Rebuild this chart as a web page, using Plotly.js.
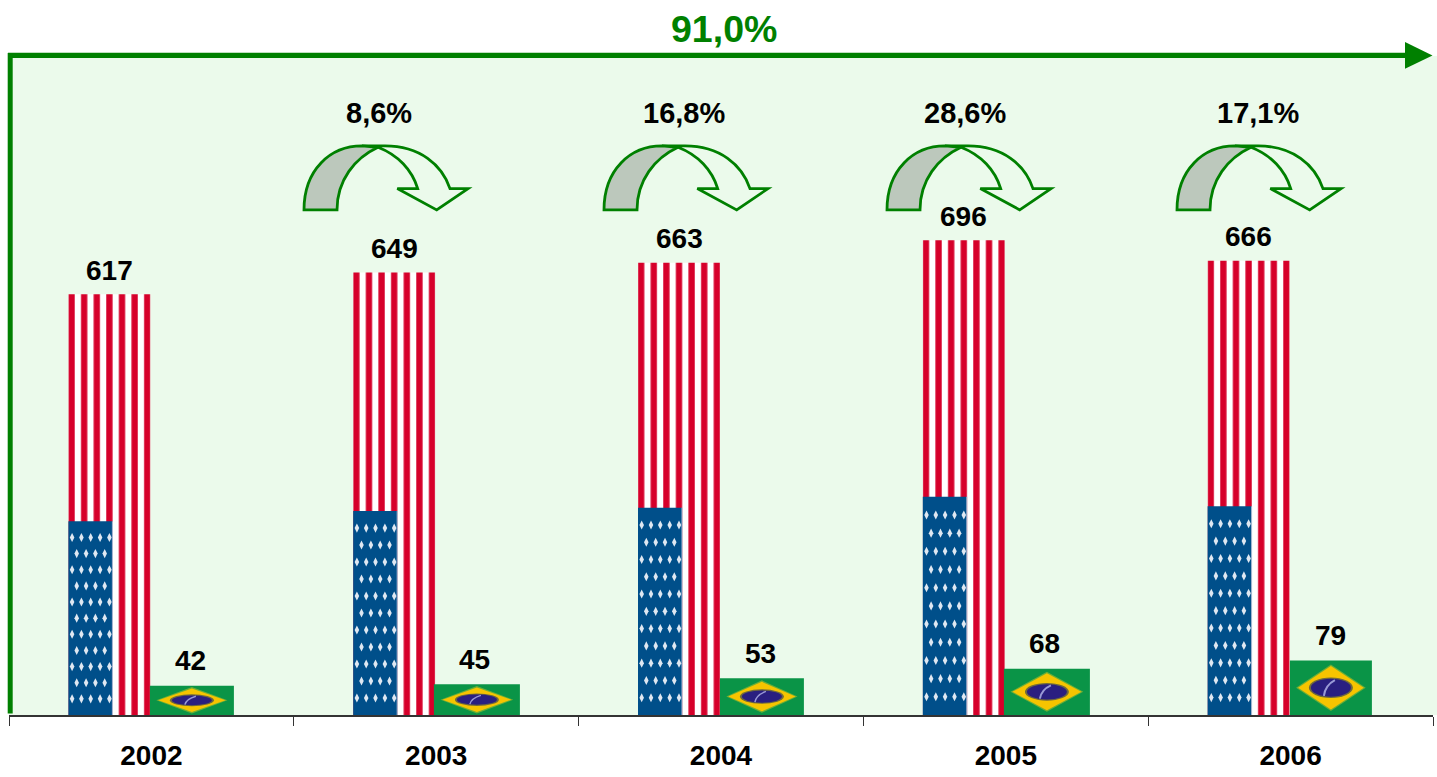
<!DOCTYPE html>
<html><head><meta charset="utf-8">
<script src="https://cdn.plot.ly/plotly-3.0.0.min.js"></script>
<style>html,body{margin:0;padding:0;background:#fff}#g{width:1437px;height:777px}</style>
</head><body><div id="g"></div>
<script>
const years = ['2002','2003','2004','2005','2006'];
const usValues = [617,649,663,696,666];
const usCanton = [284,299,304,320,306];
const brValues = [43,45,54,68,80];
const usLabels = ['617','649','663','696','666'];
const brLabels = ['42','45','53','68','79'];
const growthLabels = ['8,6%','16,8%','28,6%','17,1%'];
const totalLabel = '91,0%';

// layout constants (pixels)
const W=1437,H=777,mL=9,mR=4,mT=56,mB=61.5;
const pw=W-mL-mR, ph=H-mT-mB, cat=pw/5, yMax=ph/0.6825;
const pxX=p=>(p-mL)/pw, pxY=p=>1-(p-mT)/ph;
const GREEN='#008000', FONT='Liberation Sans, Arial, sans-serif';
const usOffset=-83/cat, usWidth=82/cat, cantonWidth=44/cat;
const brOffsets=[-1.5,-2.3,-1.1,-1.9,-0.7].map(v=>v/cat), brWidths=[84,86,84,86,82].map(v=>v/cat);
const brNudge=[-1.5,-2,-1.5,-2,-0.5];
const arrowLefts=[304,604,887,1177], growthCenters=[379,684,965,1258];
const tile=2*82/13;

// stars on the canton
const starX=[],starY=[];
years.forEach((y,i)=>{
  for(let r=1;r<=11;r++){
    const cols=(r%2)?[3.7,13,22.3,31.7,41]:[8.3,17.7,27,36.3];
    cols.forEach(c=>{starX.push(i+usOffset+c/cat);starY.push(usCanton[i]*r/12);});
  }
});

const traces=[
 {type:'bar',name:'EUA',x:years,y:usValues,offset:usOffset,width:usWidth,hoverinfo:'x+y',
  marker:{color:'#ffffff',line:{width:0},pattern:{shape:'|',fgcolor:'#d6002a',bgcolor:'#ffffff',size:years.map(()=>tile),solidity:0.5,fgopacity:1}}},
 {type:'bar',name:'Cantão',x:years,y:usCanton,offset:usOffset,width:cantonWidth,hoverinfo:'skip',
  marker:{color:'#004f8a',line:{width:0}}},
 {type:'bar',name:'Brasil',x:years,y:brValues,offset:brOffsets,width:brWidths,hoverinfo:'x+y',
  marker:{color:'#0a9447',line:{width:0}}},
 {type:'scatter',mode:'markers',xaxis:'x2',yaxis:'y',x:starX,y:starY,hoverinfo:'skip',
  marker:{symbol:'diamond-tall',size:6.5,color:'#dfe8f2',line:{width:0}}}
];

const shapes=[];
// background continues to the page edge on the right
shapes.push({type:'rect',xref:'paper',yref:'paper',layer:'below',line:{width:0},fillcolor:'#ebfaeb',
  x0:1,x1:pxX(W),y0:0,y1:1});
years.forEach((y,i)=>{
  // light edge of the canton
  const ex=i+usOffset+cantonWidth;
  shapes.push({type:'line',xref:'x2',yref:'y',layer:'above',line:{color:'#a9bfd8',width:1},x0:ex,x1:ex,y0:0,y1:usCanton[i]});
  // Brazilian flag details
  const x0=i+brOffsets[i], w=brWidths[i], cx=x0+w/2, h=brValues[i], cy=h/2;
  const dw=w*0.40, dh=h*0.40, ew=20/cat, eh=h*0.165;
  shapes.push({type:'path',xref:'x2',yref:'y',layer:'above',line:{width:0},fillcolor:'rgba(190,195,40,0.55)',
    path:`M${cx-dw-2/cat},${cy} L${cx},${cy+dh+1.5/0.683} L${cx+dw+2/cat},${cy} L${cx},${cy-dh-1.5/0.683} Z`});
  shapes.push({type:'path',xref:'x2',yref:'y',layer:'above',line:{width:0},fillcolor:'#f6c400',
    path:`M${cx-dw},${cy} L${cx},${cy+dh} L${cx+dw},${cy} L${cx},${cy-dh} Z`});
  shapes.push({type:'circle',xref:'x2',yref:'y',layer:'above',line:{width:0},fillcolor:'#6f6a3c',
    x0:cx-ew-2/cat,x1:cx+ew+2/cat,y0:cy-eh-1.2/0.683,y1:cy+eh+1.2/0.683});
  shapes.push({type:'circle',xref:'x2',yref:'y',layer:'above',line:{width:0},fillcolor:'#2a1f80',
    x0:cx-ew,x1:cx+ew,y0:cy-eh,y1:cy+eh});
  shapes.push({type:'path',xref:'x2',yref:'y',layer:'above',fillcolor:'rgba(0,0,0,0)',line:{color:'#9a9ad6',width:h>60?2:1.4},
    path:`M${cx+ew*0.2},${cy+eh*0.85} C${cx-ew*0.1},${cy+eh*0.5} ${cx-ew*0.3},${cy} ${cx-ew*0.35},${cy-eh*0.9}`});
});

// frame arrow
shapes.push({type:'line',xref:'paper',yref:'paper',layer:'above',line:{color:GREEN,width:5.4},
  x0:pxX(8),x1:pxX(1410),y0:pxY(55.4),y1:pxY(55.4)});
shapes.push({type:'line',xref:'paper',yref:'paper',layer:'above',line:{color:GREEN,width:5},
  x0:pxX(10.2),x1:pxX(10.2),y0:pxY(53),y1:pxY(714)});
shapes.push({type:'path',xref:'paper',yref:'paper',layer:'above',line:{width:0},fillcolor:GREEN,
  path:`M${pxX(1405)},${pxY(42)} L${pxX(1432.5)},${pxY(55.4)} L${pxX(1405)},${pxY(68.8)} Z`});

// curved growth arrows
arrowLefts.forEach(l=>{
  const X=d=>pxX(l+d), Y=p=>pxY(p);
  const gray=`M${X(0)},${Y(210)} C${X(0)},${Y(170)} ${X(26)},${Y(146)} ${X(58)},${Y(146)} L${X(74)},${Y(147.3)} C${X(51)},${Y(158)} ${X(33)},${Y(180)} ${X(33)},${Y(210)} Z`;
  const right=`M${X(58)},${Y(146)} L${X(81)},${Y(146)} C${X(116)},${Y(146)} ${X(138)},${Y(165)} ${X(146)},${Y(188.7)} L${X(164)},${Y(188.7)} L${X(132.7)},${Y(210)} L${X(93.3)},${Y(188.7)} L${X(113.7)},${Y(188.7)} C${X(108)},${Y(170)} ${X(94)},${Y(155)} ${X(74)},${Y(147.3)}`;
  shapes.push({type:'path',xref:'paper',yref:'paper',layer:'above',fillcolor:'rgba(0,0,0,0)',line:{color:GREEN,width:2.8},path:right});
  shapes.push({type:'path',xref:'paper',yref:'paper',layer:'above',fillcolor:'#bcc8bc',line:{color:GREEN,width:2.8},path:gray});
});

const annotations=[];
const txt=(text,x,xref,y,yref,size,color,yshift)=>({text:`<b>${text}</b>`,x,xref,y,yref,yshift:yshift||0,
  showarrow:false,xanchor:'center',yanchor:'middle',font:{family:FONT,size,color:color||'#000'}});
years.forEach((y,i)=>{
  annotations.push(txt(usLabels[i],i+usOffset+usWidth/2,'x2',usValues[i],'y',28,'#000',24));
  annotations.push(txt(brLabels[i],i+brOffsets[i]+brWidths[i]/2+brNudge[i]/cat,'x2',brValues[i],'y',28,'#000',25));
});
growthLabels.forEach((t,i)=>annotations.push(txt(t,pxX(growthCenters[i]),'paper',pxY(113),'paper',29)));
annotations.push(txt(totalLabel,pxX(724),'paper',pxY(29),'paper',37.5,GREEN));

const layout={width:W,height:H,margin:{l:mL,r:mR,t:mT,b:mB,pad:0},
  paper_bgcolor:'#ffffff',plot_bgcolor:'#ebfaeb',showlegend:false,barmode:'overlay',
  xaxis:{type:'category',categoryorder:'array',categoryarray:years,range:[-0.5,4.5],tickson:'boundaries',
    ticks:'outside',ticklen:9,tickwidth:1.2,tickcolor:'#333',showline:true,linecolor:'#333',linewidth:1.5,
    showgrid:false,zeroline:false,fixedrange:true,ticklabelstandoff:15,
    tickfont:{family:FONT,size:28,color:'#000',weight:'bold'}},
  xaxis2:{type:'linear',overlaying:'x',anchor:'y',range:[-0.5,4.5],visible:false,fixedrange:true},
  yaxis:{range:[0,yMax],visible:false,showgrid:false,zeroline:false,fixedrange:true},
  shapes,annotations};

Plotly.newPlot('g',traces,layout,{displayModeBar:false}).then(gd=>{
  // align the flag stripes with the left edge of each bar
  const paths=gd.querySelectorAll('.barlayer .trace.bars')[0].querySelectorAll('.point path');
  paths.forEach(p=>{
    const m=/#([^"')]+)/.exec(p.style.fill||''); if(!m) return;
    const pat=document.getElementById(m[1]); if(!pat) return;
    pat.setAttribute('patternTransform',`translate(${p.getBBox().x-tile/4},0)`);
  });
});
</script></body></html>
